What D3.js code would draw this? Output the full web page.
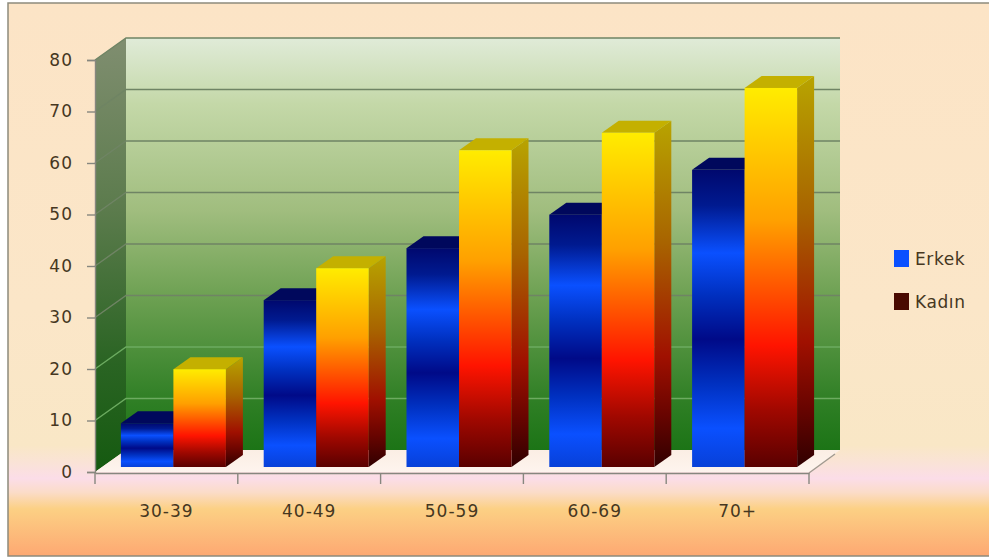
<!DOCTYPE html>
<html>
<head>
<meta charset="utf-8">
<title>Erkek / Kadın</title>
<script src="https://d3js.org/d3.v7.min.js"></script>
<style>
	html, body { margin: 0; padding: 0; background: #fff; }
	svg { display: block; }
	text { font-family: "DejaVu Sans", sans-serif; fill: #46371f; }
</style>
</head>
<body>
<div id="myGraph"></div>
<script>
var categories = ["30-39", "40-49", "50-59", "60-69", "70+"];
var seriesNames = ["Erkek", "Kadın"];
var erkekValues = [8.5, 32.4, 42.5, 49, 57.7];
var kadinValues = [19, 38.6, 61.5, 64.9, 73.6];
var yTicks = [0, 10, 20, 30, 40, 50, 60, 70, 80];
var legendColors = ["#0a50ff", "#4a0a00"];

var width = 989,
	height = 559;

// axis frame and 3d offsets
var left = 95, right = 809, bottom = 472, top80 = 60;
var wallDx = 31, wallDy = 22;
var barDx = 17, barDy = 12;
var barShiftX = 7, barShiftY = 5;

var x = d3.scaleBand().domain(categories).range([left, right]);
var xEdges = d3.scaleLinear().domain([0, categories.length]).range([left, right]);
var inner = d3.scaleBand().domain(seriesNames).range([0, x.step()]).paddingOuter(0.36).paddingInner(0);
var y = d3.scaleLinear().domain([0, 80]).range([bottom, top80]);

var svg = d3.select("#myGraph").append("svg")
	.attr("width", width)
	.attr("height", height);

var defs = svg.append("defs");

function gradient(id, stops) {
	var g = defs.append("linearGradient")
		.attr("id", id)
		.attr("x1", 0).attr("y1", 0)
		.attr("x2", 0).attr("y2", 1);
	g.selectAll("stop")
		.data(stops)
		.enter().append("stop")
		.attr("offset", function(d) { return d[0]; })
		.attr("stop-color", function(d) { return d[1]; });
}

gradient("bgFill", [[0, "#fce4c6"], [0.55, "#fbe6c8"], [0.8, "#f9e7c6"], [0.83, "#fae3d6"], [0.86, "#fbdde8"], [0.885, "#fbdcc8"], [0.915, "#fcd084"], [1, "#fda872"]]);
gradient("wallBack", [[0, "#e0ebd8"], [0.16, "#c4d8a8"], [0.42, "#a0bd7e"], [0.64, "#6a9f50"], [0.88, "#2f7f25"], [1, "#1c7416"]]);
gradient("wallLeft", [[0, "#808e70"], [0.4, "#5b7b4c"], [0.75, "#2a6423"], [1, "#155a10"]]);
gradient("floorFill", [[0, "#fbeee4"], [1, "#fef4ee"]]);
gradient("erkekFront", [[0, "#00086e"], [0.12, "#001a90"], [0.28, "#0a50ff"], [0.42, "#0030c0"], [0.57, "#000a88"], [0.72, "#0030c0"], [0.87, "#0a50ff"], [1, "#0840d8"]]);
gradient("kadinFront", [[0, "#ffec00"], [0.35, "#ffa000"], [0.68, "#ff1400"], [0.85, "#a00800"], [1, "#5a0000"]]);
gradient("kadinSide", [[0, "#b8a400"], [0.35, "#a86400"], [0.68, "#a01000"], [0.85, "#680400"], [1, "#300000"]]);

// page background and frame, right edge runs off the page
svg.append("rect")
	.attr("x", 8).attr("y", 3)
	.attr("width", width).attr("height", height - 6)
	.attr("fill", "url(#bgFill)")
	.attr("stroke", "#8d8a7c")
	.attr("stroke-width", 1.5);

// walls and floor
var backX0 = left + wallDx, backX1 = right + wallDx;

svg.append("path")
	.attr("d", "M" + backX0 + "," + (y(80) - wallDy) + "L" + backX1 + "," + (y(80) - wallDy) +
		"L" + backX1 + "," + (y(0) - wallDy) + "L" + backX0 + "," + (y(0) - wallDy) + "Z")
	.attr("fill", "url(#wallBack)");

svg.append("path")
	.attr("d", "M" + left + "," + y(80) + "L" + backX0 + "," + (y(80) - wallDy) +
		"L" + backX0 + "," + (y(0) - wallDy) + "L" + left + "," + y(0) + "Z")
	.attr("fill", "url(#wallLeft)");

svg.append("path")
	.attr("d", "M" + left + "," + y(0) + "L" + backX0 + "," + (y(0) - wallDy) +
		"L" + backX1 + "," + (y(0) - wallDy) + "L" + right + "," + y(0) + "Z")
	.attr("fill", "url(#floorFill)");

// grid lines along both walls, dark high up and light near the floor
svg.selectAll(".grid")
	.data(yTicks.slice(1))
	.enter().append("path")
	.attr("class", "grid")
	.attr("fill", "none")
	.attr("stroke-width", 1.4)
	.attr("stroke", function(d) { return d >= 30 ? "#6f8464" : "#6cab60"; })
	.attr("d", function(d) {
		return "M" + left + "," + y(d) + "L" + backX0 + "," + (y(d) - wallDy) + "L" + backX1 + "," + (y(d) - wallDy);
	});

// bars, front face plus side and top
var barRows = [];
categories.forEach(function(c, i) {
	barRows.push({ cat: c, name: "Erkek", value: erkekValues[i] });
	barRows.push({ cat: c, name: "Kadın", value: kadinValues[i] });
});

var bar = svg.selectAll(".bar")
	.data(barRows)
	.enter().append("g")
	.attr("class", "bar")
	.attr("transform", function(d) {
		return "translate(" + (x(d.cat) + inner(d.name) + barShiftX) + "," + (-barShiftY) + ")";
	});

var bw = inner.bandwidth();

bar.append("path")
	.attr("d", function(d) {
		return "M" + bw + "," + y(d.value) + "L" + (bw + barDx) + "," + (y(d.value) - barDy) +
			"L" + (bw + barDx) + "," + (y(0) - barDy) + "L" + bw + "," + y(0) + "Z";
	})
	.attr("fill", function(d) { return d.name == "Erkek" ? "#000a60" : "url(#kadinSide)"; });

bar.append("path")
	.attr("d", function(d) {
		return "M0," + y(d.value) + "L" + barDx + "," + (y(d.value) - barDy) +
			"L" + (bw + barDx) + "," + (y(d.value) - barDy) + "L" + bw + "," + y(d.value) + "Z";
	})
	.attr("fill", function(d) { return d.name == "Erkek" ? "#00085c" : "#c4b000"; });

bar.append("rect")
	.attr("x", 0)
	.attr("y", function(d) { return y(d.value); })
	.attr("width", bw)
	.attr("height", function(d) { return y(0) - y(d.value); })
	.attr("fill", function(d) { return d.name == "Erkek" ? "url(#erkekFront)" : "url(#kadinFront)"; });

// axes
var yAxis = d3.axisLeft(y).tickValues(yTicks).tickSize(8).tickPadding(14);
var gy = svg.append("g")
	.attr("transform", "translate(" + left + ",0)")
	.call(yAxis);

var xAxis = d3.axisBottom(x).tickSize(0).tickPadding(32);
var gx = svg.append("g")
	.attr("transform", "translate(0," + (bottom + 1) + ")")
	.call(xAxis);

svg.selectAll(".xEdge")
	.data(d3.range(categories.length + 1))
	.enter().append("line")
	.attr("class", "xEdge")
	.attr("x1", function(d) { return xEdges(d); })
	.attr("x2", function(d) { return xEdges(d); })
	.attr("y1", bottom + 1)
	.attr("y2", bottom + 12)
	.attr("stroke", "#87877f")
	.attr("stroke-width", 1.4);

svg.append("line")
	.attr("x1", right).attr("y1", bottom + 1)
	.attr("x2", right + 26).attr("y2", bottom - 18)
	.attr("stroke", "#a09a90")
	.attr("stroke-width", 1.4);

svg.selectAll(".domain, .tick line")
	.attr("stroke", "#87877f")
	.attr("stroke-width", 1.4);

svg.selectAll(".tick text")
	.attr("font-family", null)
	.style("font-size", "17px")
	.style("letter-spacing", "1px")
	.style("fill", "#46371f");

// legend
var legend = svg.selectAll(".legend")
	.data(seriesNames)
	.enter().append("g")
	.attr("class", "legend")
	.attr("transform", function(d, i) { return "translate(894," + (250 + i * 43) + ")"; });

legend.append("rect")
	.attr("width", 15)
	.attr("height", 17)
	.attr("fill", function(d, i) { return legendColors[i]; });

legend.append("text")
	.attr("x", 21)
	.attr("y", 15)
	.style("font-size", "17px")
	.style("letter-spacing", "0.6px")
	.text(function(d) { return d; });
</script>
</body>
</html>
